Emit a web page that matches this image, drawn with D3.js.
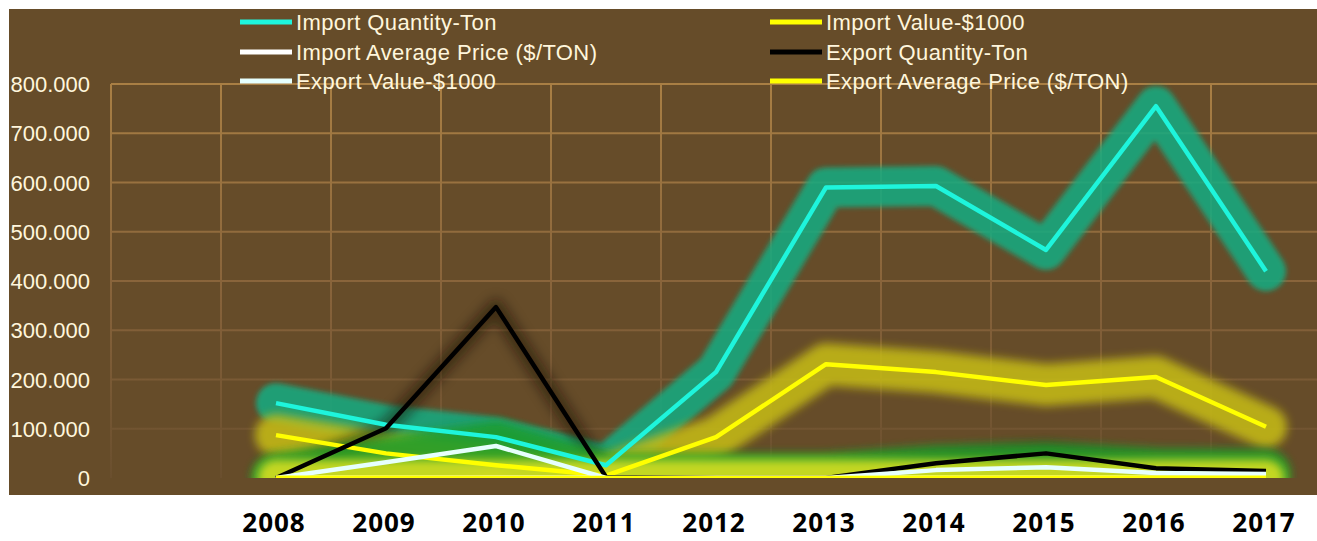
<!DOCTYPE html>
<html>
<head>
<meta charset="utf-8">
<script src="https://cdn.jsdelivr.net/npm/d3@7"></script>
<style>
  body { margin: 0; background: #fff; }
  svg { display: block; }
</style>
</head>
<body>
<svg id="svg-container" width="1317" height="541"></svg>
<script>
// Data (thousands).
var years = ['2008', '2009', '2010', '2011', '2012', '2013', '2014', '2015', '2016', '2017'];
var importQty = [152, 108, 83, 26, 215, 590, 593, 463, 755, 420];
var importValue = [87, 50, 26, 5, 83, 231, 215, 189, 205, 104];
var importAvgPrice = [0.6, 0.5, 0.4, 0.3, 0.4, 0.4, 0.4, 0.4, 0.3, 0.3];
var exportQty = [0, 101, 347, 2, 0, 0, 30, 50, 20, 14];
var exportValue = [0, 32, 65, 0, 0, 0, 16, 22, 10, 8];
var exportAvgPrice = [0.3, 0.3, 0.2, 0.2, 0.2, 0.2, 0.3, 0.3, 0.3, 0.3];
var yTicks = [0, 100, 200, 300, 400, 500, 600, 700, 800];
var seriesNames = ['Import Quantity-Ton', 'Import Value-$1000', 'Import Average Price ($/TON)',
    'Export Quantity-Ton', 'Export Value-$1000', 'Export Average Price ($/TON)'];

var svg = d3.select('#svg-container'),
    width = +svg.attr('width'),
    height = +svg.attr('height');
var plot = { left: 111, right: 1321, top: 84, bottom: 478 };

var series = [
    { name: seriesNames[0], values: importQty, color: '#1ef5dc', glow: '#16aa80', glowW: 40, blur: 2.5, glowOp: 0.88 },
    { name: seriesNames[1], values: importValue, color: '#ffff00', glow: '#c4ba14', glowW: 42, blur: 5, glowOp: 0.88 },
    { name: seriesNames[2], values: importAvgPrice, color: '#ffffff', glow: '#c9d41c', glowW: 40, blur: 4, glowOp: 0.8 },
    { name: seriesNames[3], values: exportQty, color: '#000000', glow: '#140d04', glowW: 16, blur: 6, glowOp: 0.5 },
    { name: seriesNames[4], values: exportValue, color: '#e6fffd', glow: '#1f9c2c', glowW: 50, blur: 4, glowOp: 0.85 },
    { name: seriesNames[5], values: exportAvgPrice, color: '#ffff00', glow: '#d4de22', glowW: 36, blur: 4, glowOp: 0.9 }
];

// Scales: first band is empty like the original sheet.
var x = d3.scaleBand().domain([''].concat(years)).range([plot.left, plot.right]);
var y = d3.scaleLinear().domain([0, 800]).range([plot.bottom, plot.top]);

var defs = svg.append('defs');
// user-space filter region so that flat lines keep their glow
series.forEach(function (s, i) {
    defs.append('filter').attr('id', 'blur' + i)
        .attr('filterUnits', 'userSpaceOnUse')
        .attr('x', 0).attr('y', 0).attr('width', width).attr('height', height)
        .append('feGaussianBlur').attr('stdDeviation', s.blur);
});
defs.append('clipPath').attr('id', 'plot-clip')
    .append('rect')
    .attr('x', plot.left).attr('y', 20)
    .attr('width', plot.right - plot.left).attr('height', plot.bottom - 20);
var grad = defs.append('linearGradient').attr('id', 'grid-grad')
    .attr('gradientUnits', 'userSpaceOnUse')
    .attr('x1', 0).attr('y1', plot.top).attr('x2', 0).attr('y2', plot.bottom);
grad.append('stop').attr('offset', '0%').attr('stop-color', '#a97f44');
grad.append('stop').attr('offset', '55%').attr('stop-color', '#86623a');
grad.append('stop').attr('offset', '100%').attr('stop-color', '#6a4f2e');

// Panel
svg.append('rect')
    .attr('x', 9).attr('y', 9)
    .attr('width', width - 9).attr('height', 486)
    .attr('fill', '#664c29');

// Gridlines
var grid = svg.append('g').attr('class', 'grid');
grid.selectAll('.hline')
    .data(yTicks.slice(1))
    .enter().append('line')
    .attr('x1', plot.left).attr('x2', width)
    .attr('y1', function (d) { return y(d); })
    .attr('y2', function (d) { return y(d); })
    .attr('stroke', 'url(#grid-grad)')
    .attr('stroke-width', 2);
grid.selectAll('.vline')
    .data(x.domain())
    .enter().append('line')
    .attr('x1', function (d) { return x(d); })
    .attr('x2', function (d) { return x(d); })
    .attr('y1', plot.top).attr('y2', plot.bottom)
    .attr('stroke', 'url(#grid-grad)')
    .attr('stroke-width', 2);

// Y labels
svg.append('g').attr('class', 'ylabels')
    .selectAll('text')
    .data(yTicks)
    .enter().append('text')
    .attr('x', 90)
    .attr('y', function (d) { return y(d) + 8; })
    .attr('text-anchor', 'end')
    .attr('font-family', 'Liberation Sans, Arial, sans-serif')
    .attr('font-size', 22)
    .attr('fill', '#fff6dc')
    .text(function (d) { return d === 0 ? '0' : d + '.000'; });

// Lines
var line = d3.line()
    .x(function (d, i) { return x(years[i]) + x.bandwidth() / 2; })
    .y(function (d) { return y(d); });

var marks = svg.append('g').attr('clip-path', 'url(#plot-clip)');
// glows first, then the lines on top
marks.selectAll('.glow')
    .data(series)
    .enter().append('path')
    .attr('class', 'glow')
    .attr('d', function (d) { return line(d.values); })
    .attr('fill', 'none')
    .attr('stroke', function (d) { return d.glow; })
    .attr('stroke-width', function (d) { return d.glowW; })
    .attr('stroke-linejoin', 'round')
    .attr('stroke-linecap', 'round')
    .attr('opacity', function (d) { return d.glowOp; })
    .attr('filter', function (d, i) { return 'url(#blur' + i + ')'; });
marks.selectAll('.series')
    .data(series)
    .enter().append('path')
    .attr('class', 'series')
    .attr('d', function (d) { return line(d.values); })
    .attr('fill', 'none')
    .attr('stroke', function (d) { return d.color; })
    .attr('stroke-width', 4.5)
    .attr('stroke-linejoin', 'round');

// X labels
svg.append('g').attr('class', 'xlabels')
    .selectAll('text')
    .data(years)
    .enter().append('text')
    .attr('x', function (d) { return x(d) + x.bandwidth() / 2 - 2; })
    .attr('y', 532)
    .attr('text-anchor', 'middle')
    .attr('font-family', 'Open Sans, sans-serif')
    .attr('font-weight', 700)
    .attr('font-size', 26)
    .attr('letter-spacing', 1)
    .attr('fill', '#000')
    .text(function (d) { return d; });

// Legend
var legend = svg.append('g').attr('class', 'legend')
    .selectAll('g')
    .data(series)
    .enter().append('g')
    .attr('transform', function (d, i) {
        return 'translate(' + (i % 2 === 0 ? 240 : 770) + ',' + [22, 52, 81][Math.floor(i / 2)] + ')';
    });
legend.append('line')
    .attr('x1', 0).attr('x2', 52)
    .attr('y1', 0).attr('y2', 0)
    .attr('stroke', function (d) { return d.color; })
    .attr('stroke-width', 5);
legend.append('text')
    .attr('x', 56)
    .attr('y', 8)
    .attr('font-family', 'Liberation Sans, Arial, sans-serif')
    .attr('font-size', 22)
    .attr('letter-spacing', 0.4)
    .attr('fill', '#fff6dc')
    .text(function (d) { return d.name; });
</script>
</body>
</html>
